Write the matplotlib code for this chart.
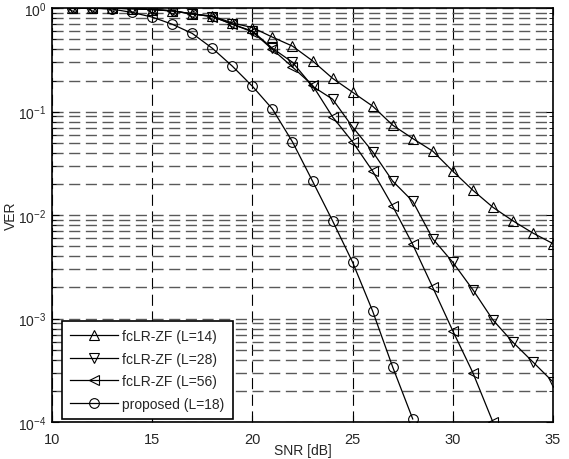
import numpy as np
import matplotlib
matplotlib.use('Agg')
import matplotlib.pyplot as plt
from matplotlib.ticker import LogLocator, NullFormatter

plt.rcParams['font.family'] = ['Liberation Sans', 'DejaVu Sans']
plt.rcParams['mathtext.default'] = 'regular'

# data
snr_l14 = list(range(11, 36))
ver_l14 = [1.0, 1.0, 1.0, 0.99, 0.97, 0.95, 0.88, 0.84, 0.72, 0.65, 0.525, 0.43,
           0.31, 0.21, 0.154, 0.113, 0.074, 0.055, 0.0415, 0.0266, 0.0174,
           0.0119, 0.0088, 0.0067, 0.0053]

snr_l28 = list(range(11, 36))
ver_l28 = [1.0, 1.0, 1.0, 0.99, 0.97, 0.94, 0.88, 0.83, 0.70, 0.60, 0.41, 0.30,
           0.176, 0.132, 0.071, 0.041, 0.0213, 0.0136, 0.0059, 0.0035, 0.0019,
           0.00097, 0.00059, 0.00038, 0.000244]

snr_l56 = list(range(11, 33))
ver_l56 = [1.0, 1.0, 1.0, 0.99, 0.97, 0.94, 0.88, 0.83, 0.70, 0.59, 0.40, 0.27,
           0.18, 0.089, 0.051, 0.0266, 0.0122, 0.0052, 0.0020, 0.00076,
           0.00030, 0.0001]

snr_prop = list(range(11, 29))
ver_prop = [1.0, 1.0, 0.98, 0.91, 0.82, 0.70, 0.57, 0.41, 0.275, 0.176, 0.106,
            0.051, 0.0213, 0.0088, 0.0035, 0.00118, 0.00034, 0.000107]

fig = plt.figure(figsize=(5.69, 4.60), dpi=100)
ax = fig.add_axes([0.0914, 0.0804, 0.8805, 0.8996])

mk = dict(color='black', linewidth=0.9, markersize=7, markerfacecolor='none',
          markeredgewidth=0.8)
ax.semilogy(snr_l14, ver_l14, marker='^', label='fcLR-ZF (L=14)', **mk)
ax.semilogy(snr_l28, ver_l28, marker='v', label='fcLR-ZF (L=28)', **mk)
ax.semilogy(snr_l56, ver_l56, marker='<', label='fcLR-ZF (L=56)', **mk)
ax.semilogy(snr_prop, ver_prop, marker='o', label='proposed (L=18)', **mk)

ax.set_xlim(10, 35)
ax.set_ylim(1e-4, 1)
ax.set_xticks([10, 15, 20, 25, 30, 35])
ax.yaxis.set_major_locator(LogLocator(base=10, numticks=10))
ax.yaxis.set_minor_locator(LogLocator(base=10, subs=np.arange(2, 10), numticks=10))
ax.yaxis.set_minor_formatter(NullFormatter())

ax.grid(True, which='major', axis='x', color='black', linestyle=(0, (10, 5)), linewidth=0.8)
ax.grid(True, which='both', axis='y', color='0.35', linestyle=(0, (8, 4)), linewidth=1.0)

ax.tick_params(which='both', direction='in', top=True, right=True, labelcolor='0.15')
ax.tick_params(axis='x', pad=7, labelsize=10.5)
ax.tick_params(axis='y', pad=4, labelsize=10)
ax.tick_params(which='major', length=5)
ax.tick_params(which='minor', length=3)
for s in ax.spines.values():
    s.set_linewidth(1.2)

ax.set_xlabel('SNR [dB]', fontsize=10, color='0.15', va='bottom')
ax.xaxis.set_label_coords(0.5, -0.085)
ax.set_ylabel('VER', fontsize=10, labelpad=0, color='0.15')

leg = ax.legend(loc='lower left', bbox_to_anchor=(0.02, 0.007), borderaxespad=0,
                fontsize=10, fancybox=False, framealpha=1, edgecolor='black',
                handlelength=3.4, handletextpad=0.35, labelspacing=0.62,
                borderpad=0.6)
leg.get_frame().set_linewidth(1.2)
for t in leg.get_texts():
    t.set_color('0.15')

fig.savefig('out.png', dpi=100)
